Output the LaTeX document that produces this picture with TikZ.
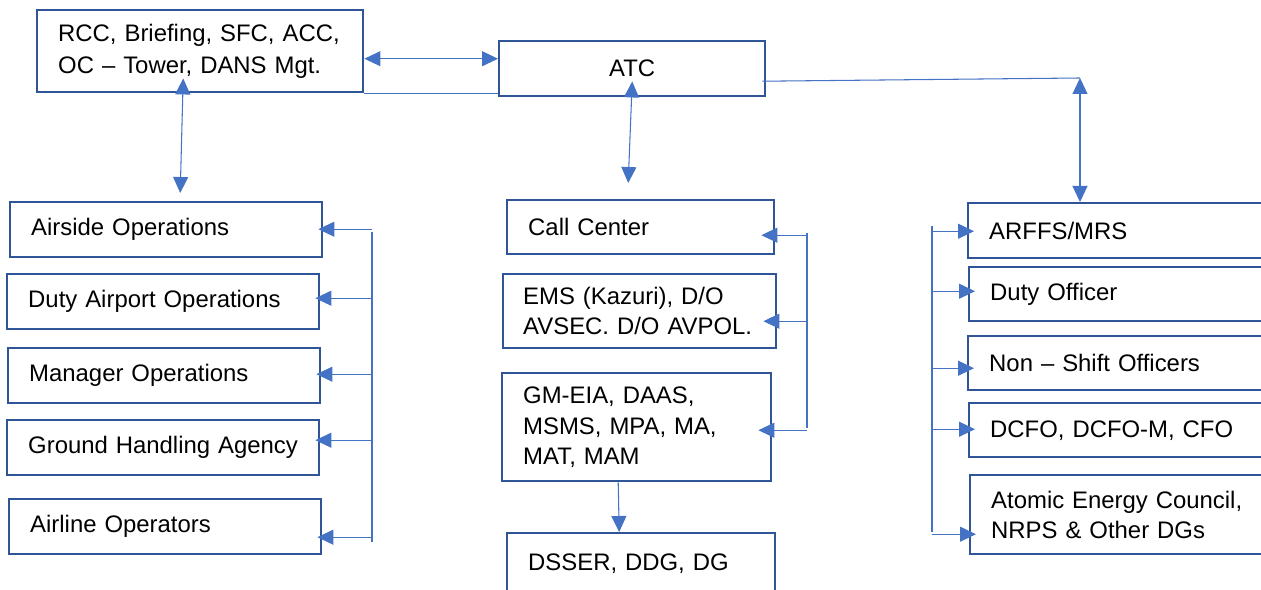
\documentclass[tikz,border=0pt]{standalone}
\usepackage{fontspec}
\setmainfont{Liberation Sans}
\usetikzlibrary{arrows.meta}

\definecolor{boxblue}{HTML}{2F5597}
\definecolor{linkblue}{HTML}{4472C4}

\tikzset{
  box/.style={draw=boxblue, line width=1.4pt, anchor=north west, align=left,
    inner xsep=0.42cm, inner ysep=0pt, font=\fontsize{13.6}{17.1}\selectfont},
  link/.style={draw=linkblue, line width=0.6pt}
}

\begin{document}
\begin{tikzpicture}[x=0.02cm, y=-0.02cm, >={Triangle[length=0.32cm,width=0.3cm]}]
  \useasboundingbox (0,0) rectangle (1261,590);

  \node[box, text width=5.68cm, minimum height=1.64cm, font=\fontsize{13.6}{18.2}\selectfont] (rcc) at (36,9) {RCC, Briefing, SFC, ACC,\\OC – Tower, DANS Mgt.};
  \node[box, text width=4.48cm, minimum height=1.10cm, align=center] (atc) at (498,40) {ATC};

  \foreach \n/\x/\y/\t in {air/9/201/Airside Operations, duty/6/273/Duty Airport Operations,
      mgr/7/347/Manager Operations, gha/6/419/Ground Handling Agency, aop/8/498/Airline Operators}
    \node[box, text width=5.40cm, minimum height=1.10cm] (\n) at (\x,\y) {\t};

  \node[box, text width=4.50cm, minimum height=1.08cm] (call) at (506,199) {Call Center};
  \node[box, inner xsep=0.40cm, text width=4.66cm, minimum height=1.48cm] (ems) at (502,273) {EMS (Kazuri), D/O\\AVSEC. D/O AVPOL.};
  \node[box, text width=4.54cm, minimum height=2.16cm] (gm) at (501,372) {GM-EIA, DAAS,\\MSMS, MPA, MA,\\MAT, MAM};
  \node[box, text width=4.52cm, minimum height=1.20cm] (dsser) at (506,532) {DSSER, DDG, DG};

  \foreach \n/\x/\y/\h/\t in {arffs/967/202/1.10/{ARFFS/MRS}, dof/968/266/1.08/{Duty Officer},
      nso/967/335/1.08/{Non – Shift Officers}, dcfo/968/402/1.08/{DCFO, DCFO-M, CFO},
      aec/969/474/1.58/{Atomic Energy Council,\\NRPS \& Other DGs}}
    \node[box, text width=5.60cm, minimum height=\h cm] (\n) at (\x,\y) {\t};

  \draw[link, <->] ([yshift=-0.15cm]rcc.east) -- ([yshift=-0.15cm]rcc.east -| atc.west);
  \draw[link] (rcc.south east) -- (rcc.south east -| atc.west);
  \draw[link, <->] ([xshift=-0.34cm, yshift=0.3cm]rcc.south) -- ([xshift=0.28cm, yshift=0.16cm]air.north);
  \draw[link, <->] ([yshift=0.32cm]atc.south) -- ([xshift=-0.25cm, yshift=0.32cm]call.north);

  \coordinate (rt) at (1080,78);
  \draw[link] ([xshift=-0.08cm, yshift=-0.25cm]atc.east) -- (rt);
  \draw[link, <->] (rt) -- (rt |- arffs.north);

  \coordinate (lt) at (372,232);
  \coordinate (lb) at (372,542);
  \draw[link] (lt) -- (lb);
  \foreach \n/\s in {air/0.01, duty/0.07, mgr/0.03, gha/0.15, aop/-0.21}
    \draw[link, ->] ([yshift=\s cm]\n.east -| lt) -- ([xshift=-0.1cm, yshift=\s cm]\n.east);

  \coordinate (mt) at (807,233);
  \coordinate (mb) at (807,428);
  \draw[link] (mt) -- (mb);
  \foreach \n/\s in {call/-0.16, ems/-0.2, gm/-0.06}
    \draw[link, ->] ([yshift=\s cm]\n.east -| mt) -- ([xshift=-0.28cm, yshift=\s cm]\n.east);
  \draw[link, ->] ([xshift=-0.37cm]gm.south) -- ([xshift=-0.44cm]dsser.north);

  \coordinate (rtop) at (932,226);
  \coordinate (rbot) at (932,532);
  \draw[link] (rtop) -- (rbot);
  \foreach \n/\s in {arffs/-0.01, dof/0.06, nso/-0.1, dcfo/0.02, aec/-0.39}
    \draw[link, ->] ([yshift=\s cm]\n.west -| rtop) -- ([xshift=0.14cm, yshift=\s cm]\n.west);
\end{tikzpicture}
\end{document}
